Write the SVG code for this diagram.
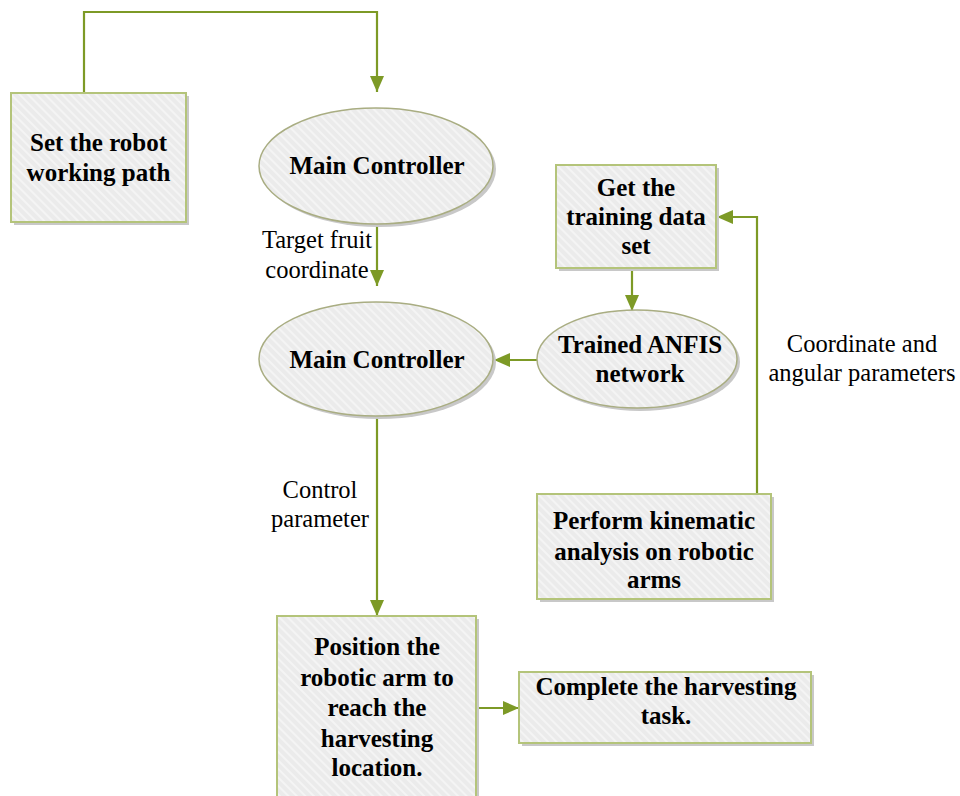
<svg xmlns="http://www.w3.org/2000/svg" width="960" height="796" viewBox="0 0 960 796">
<defs>
<pattern id="hatch" width="6" height="6" patternUnits="userSpaceOnUse" patternTransform="rotate(-45)">
<rect width="6" height="6" fill="#ebebeb"/>
<rect width="2" height="6" fill="#f4f4f4"/>
</pattern>
<marker id="arr" markerUnits="userSpaceOnUse" markerWidth="16" markerHeight="16" viewBox="0 0 16 16" refX="16" refY="8" orient="auto">
<path d="M0,1 L16,8 L0,15 Z" fill="#7d9a26"/>
</marker>
</defs>
<style>
.box{fill:url(#hatch);stroke:#b4c47a;stroke-width:2}
.ell{fill:url(#hatch);stroke:#a9ad82;stroke-width:1.5}
.sh{fill:#c8c8c8}
.t{font-family:"Liberation Serif","Times New Roman",serif;font-weight:bold;font-size:25px;fill:#000;text-anchor:middle}
.l{font-family:"Liberation Serif","Times New Roman",serif;font-size:24.5px;fill:#000;text-anchor:middle}
.c{fill:none;stroke:#7d9a26;stroke-width:2.2}
</style>
<g id="connectors">
<path class="c" d="M84,93 V12 H377 V92" marker-end="url(#arr)"/>
<path class="c" d="M377,224 V286" marker-end="url(#arr)"/>
<path class="c" d="M632,268 V311" marker-end="url(#arr)"/>
<path class="c" d="M537,360 H494" marker-end="url(#arr)"/>
<path class="c" d="M757,494 V217 H717" marker-end="url(#arr)"/>
<path class="c" d="M377,416 V616" marker-end="url(#arr)"/>
<path class="c" d="M476,708 H519" marker-end="url(#arr)"/>
</g>
<g id="set-path">
<rect class="sh" x="14" y="96" width="175" height="129"/>
<rect class="box" x="11" y="93" width="175" height="129"/>
<text class="t" x="98.5" y="151">Set the robot</text>
<text class="t" x="98.5" y="181">working path</text>
</g>
<g id="main-controller-1">
<ellipse class="sh" cx="379" cy="169" rx="117" ry="58"/>
<ellipse class="ell" cx="376" cy="166" rx="117" ry="58"/>
<text class="t" x="377" y="174">Main Controller</text>
</g>
<g id="main-controller-2">
<ellipse class="sh" cx="379" cy="362" rx="117" ry="57"/>
<ellipse class="ell" cx="376" cy="359" rx="117" ry="57"/>
<text class="t" x="377" y="368">Main Controller</text>
</g>
<g id="training-data">
<rect class="sh" x="559" y="168" width="160" height="103"/>
<rect class="box" x="556" y="165" width="160" height="103"/>
<text class="t" x="636" y="196">Get the</text>
<text class="t" x="636" y="225">training data</text>
<text class="t" x="636" y="254">set</text>
</g>
<g id="anfis">
<ellipse class="sh" cx="640" cy="362" rx="100" ry="49"/>
<ellipse class="ell" cx="637" cy="359" rx="100" ry="49"/>
<text class="t" x="640" y="353">Trained ANFIS</text>
<text class="t" x="640" y="382">network</text>
</g>
<g id="kinematic">
<rect class="sh" x="540" y="497" width="234" height="105"/>
<rect class="box" x="537" y="494" width="234" height="105"/>
<text class="t" x="654" y="529">Perform kinematic</text>
<text class="t" x="654" y="560">analysis on robotic</text>
<text class="t" x="654" y="588">arms</text>
</g>
<g id="position-arm">
<rect class="sh" x="280" y="619" width="199" height="190"/>
<rect class="box" x="277" y="616" width="199" height="190"/>
<text class="t" x="377" y="655">Position the</text>
<text class="t" x="377" y="686">robotic arm to</text>
<text class="t" x="377" y="716">reach the</text>
<text class="t" x="377" y="747">harvesting</text>
<text class="t" x="377" y="776">location.</text>
</g>
<g id="complete">
<rect class="sh" x="522" y="675" width="292" height="71"/>
<rect class="box" x="519" y="672" width="292" height="71"/>
<text class="t" x="666" y="695">Complete the harvesting</text>
<text class="t" x="666" y="724">task.</text>
</g>
<g id="labels">
<text class="l" x="317" y="248">Target fruit</text>
<text class="l" x="317" y="278">coordinate</text>
<text class="l" x="320" y="498">Control</text>
<text class="l" x="320" y="527">parameter</text>
<text class="l" x="862" y="352">Coordinate and</text>
<text class="l" x="862" y="381">angular parameters</text>
</g>
</svg>
